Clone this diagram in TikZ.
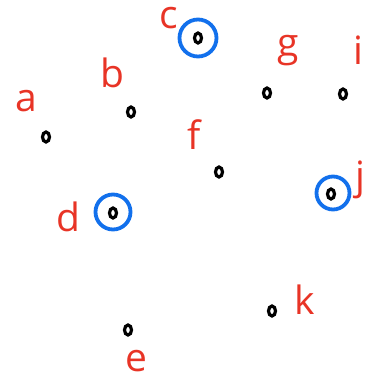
\documentclass[tikz,border=0pt]{standalone}
\usepackage{fontspec}
\setmainfont{Open Sans}
\usetikzlibrary{shapes.geometric}
\definecolor{penred}{RGB}{232,52,38}
\definecolor{penblue}{RGB}{18,112,236}
\begin{document}
\begin{tikzpicture}[
	x=1pt, y=-1pt,
	vertex/.style={ ellipse, draw, line width=3.2pt, inner sep=0pt, minimum width=7pt, minimum height=10pt },
	lbl/.style={ penred, inner sep=0pt, font=\fontsize{39}{39}\selectfont },
	ring/.style={ circle, draw=penblue, line width=3.8pt, inner sep=0pt }
]
\useasboundingbox (0,0) rectangle (385,382);

\node at (46,137) (va) [vertex] {};
\node at (26,101) (la) [lbl] {a};

\node at (131,112) (vb) [vertex] {};
\node at (112,73) (lb) [lbl] {b};

\node at (198,38) (vc) [vertex] {};
\node at (169,18) (lc) [lbl] {c};
\node at (198,38) (rc) [ring,minimum size=37pt] {};

\node at (113,213) (vd) [vertex] {};
\node at (68,217) (ld) [lbl] {d};
\node at (113,212) (rd) [ring,minimum size=35pt] {};

\node at (128,330) (ve) [vertex] {};
\node at (136,361) (le) [lbl] {e};

\node at (219,172) (vf) [vertex] {};
\node at (194,135) (lf) [lbl] {f};

\node at (267,93) (vg) [vertex] {};
\node at (288,51) (lg) [lbl] {g};

\node at (343,94) (vi) [vertex] {};
\node at (358,50) (li) [lbl] {i};

\node at (331,194) (vj) [vertex] {};
\node at (360,180) (lj) [lbl] {j};
\node at (333,193) (rj) [ring,minimum size=33pt] {};

\node at (272,311) (vk) [vertex] {};
\node at (305,300) (lk) [lbl] {k};

\end{tikzpicture}
\end{document}
